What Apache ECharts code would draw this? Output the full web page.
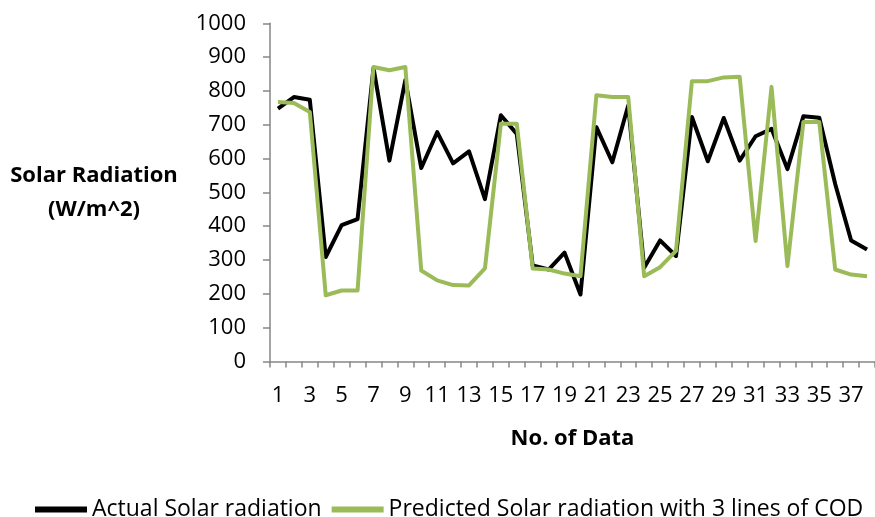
<!DOCTYPE html>
<html>
<head>
<meta charset="utf-8">
<script src="https://cdn.jsdelivr.net/npm/echarts@6/dist/echarts.min.js"></script>
<style>html,body{margin:0;padding:0;background:#fff}#c{width:875px;height:517px}</style>
</head>
<body>
<div id="c"></div>
<script>
const categories = [];
for (let i = 1; i <= 38; i++) categories.push(String(i));
const actual = [748, 782, 774, 309, 403, 421, 868, 594, 832, 572, 678, 586, 621, 480, 728, 673, 284, 272, 322, 198,
  693, 589, 757, 277, 358, 312, 723, 592, 720, 594, 666, 688, 569, 725, 721, 525, 358, 331];
const predicted = [767, 764, 738, 196, 210, 210, 871, 861, 871, 269, 240, 226, 225, 275, 703, 703, 275, 272, 260, 252,
  787, 782, 782, 252, 279, 327, 829, 829, 840, 842, 356, 812, 282, 708, 708, 272, 257, 252];
const seriesNames = ['Actual Solar radiation', 'Predicted Solar radiation with 3 lines of COD'];
const yTitle = 'Solar Radiation\n(W/m^2)';
const xTitle = 'No. of Data';

const FONT = 'Open Sans';
const chart = echarts.init(document.getElementById('c'), null, {renderer: 'canvas'});
chart.setOption({
  animation: false,
  backgroundColor: '#fff',
  textStyle: {fontFamily: FONT, color: '#000'},
  grid: {left: 270, top: 23.3, bottom: 155.5, width: 615.6, containLabel: false},
  legend: {
    left: 30, top: 493, itemGap: 10, itemWidth: 52, itemHeight: 6, icon: 'rect',
    textStyle: {fontFamily: FONT, fontSize: 23, color: '#000'},
    data: seriesNames
  },
  xAxis: {
    type: 'category', data: categories, boundaryGap: true,
    name: xTitle, nameLocation: 'middle', nameGap: 66,
    nameTextStyle: {fontFamily: FONT, fontWeight: 'bold', fontSize: 22, color: '#000'},
    axisLine: {lineStyle: {color: '#868686', width: 1.5}},
    axisTick: {show: true, interval: 0, length: 6, lineStyle: {color: '#868686', width: 1.5}},
    axisLabel: {interval: 1, fontFamily: FONT, fontSize: 22, color: '#000', margin: 23},
    splitLine: {show: false}
  },
  yAxis: {
    type: 'value', min: 0, max: 1000, interval: 100,
    name: yTitle, nameLocation: 'middle', nameRotate: 0, nameGap: 176,
    nameTextStyle: {fontFamily: FONT, fontWeight: 'bold', fontSize: 22, color: '#000', lineHeight: 34, align: 'center'},
    axisLine: {show: true, lineStyle: {color: '#868686', width: 1.5}},
    axisTick: {show: true, length: 7, lineStyle: {color: '#868686', width: 1.5}},
    axisLabel: {fontFamily: FONT, fontSize: 22, color: '#000', margin: 24, formatter: v => String(v)},
    splitLine: {show: false}
  },
  series: [
    {name: seriesNames[0], type: 'line', data: actual, symbol: 'none', color: '#000000',
     lineStyle: {width: 4, color: '#000000', join: 'round'}, z: 2},
    {name: seriesNames[1], type: 'line', data: predicted, symbol: 'none', color: '#9BBB59',
     lineStyle: {width: 4, color: '#9BBB59', join: 'round'}, z: 3}
  ]
});
</script>
</body>
</html>
